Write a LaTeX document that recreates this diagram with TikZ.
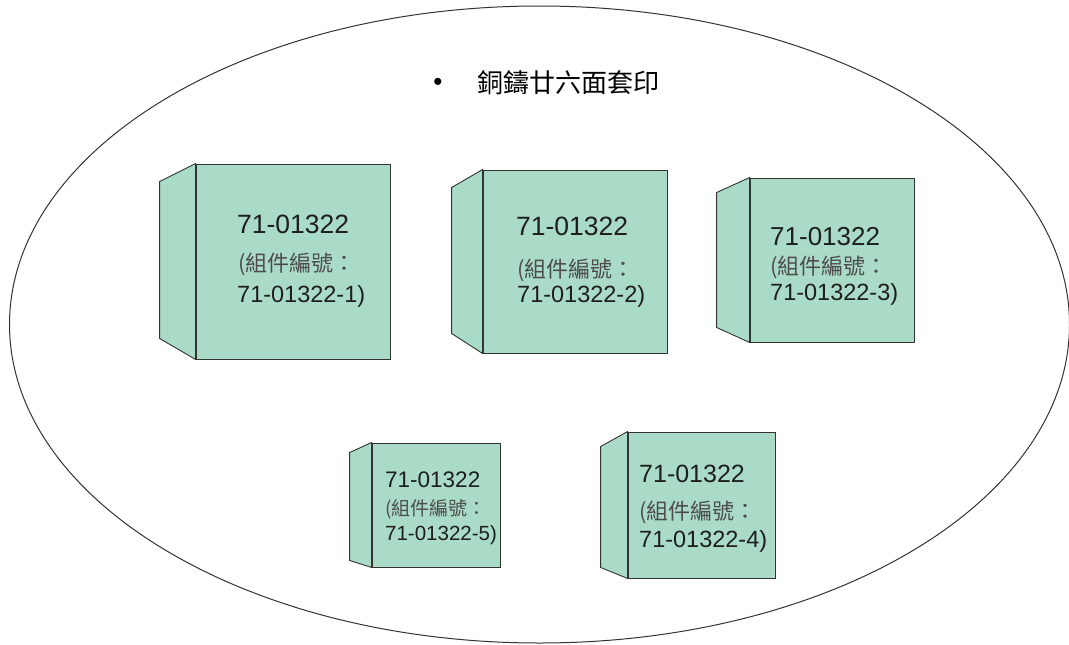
\documentclass[tikz,border=0pt]{standalone}
\usepackage{fontspec}
\setmainfont{Liberation Sans}
\newfontfamily\cjk{Noto Sans CJK TC}
\definecolor{boxgreen}{RGB}{169,219,199}
\definecolor{ink}{RGB}{30,30,30}
\tikzset{
  frontbox/.style={draw=black!80, fill=boxgreen, line width=0.9pt, inner sep=0pt},
  sideface/.style={draw=black!80, fill=boxgreen, line width=0.9pt, line join=miter},
  lineA/.style={anchor=base west, inner sep=0pt, text=ink},
  lineB/.style={anchor=base west, inner sep=0pt, text=black!70},
}
\newcommand{\fs}[1]{\fontsize{#1}{#1}\selectfont}
\begin{document}
\begin{tikzpicture}[x=1pt,y=-1pt]
\useasboundingbox (0,0) rectangle (1069,645);
\draw[black!80, line width=1pt] (539.5,324.5) ellipse [x radius=530pt, y radius=318.5pt];
% title
\node[inner sep=0pt, font=\fs{26}] (bul) at (438,84) {•};
\node[anchor=west, inner sep=0pt, font=\cjk\fs{26}] (title) at (477,83) {銅鑄廿六面套印};
% box 1
\node[frontbox, minimum width=194pt, minimum height=195pt] (f1) at (293,261.5) {};
\draw[sideface] (f1.north west) -- +(-36,18) -- ([shift={(-36,-21)}]f1.south west) -- (f1.south west) -- cycle;
\node[lineA, font=\fs{26.5}] (a1) at (237,233) {71-01322};
\node[lineB, font=\cjk\fs{22}] (b1) at (238,271) {(組件編號：};
\node[lineA, font=\fs{23.5}] (c1) at (237,302) {71-01322-1)};
% box 2
\node[frontbox, minimum width=184pt, minimum height=183pt] (f2) at (575,261.5) {};
\draw[sideface] (f2.north west) -- +(-31,18) -- ([shift={(-31,-20)}]f2.south west) -- (f2.south west) -- cycle;
\node[lineA, font=\fs{26.5}] (a2) at (516,235) {71-01322};
\node[lineB, font=\cjk\fs{22}] (b2) at (517,277) {(組件編號：};
\node[lineA, font=\fs{23.5}] (c2) at (517,302) {71-01322-2)};
% box 3
\node[frontbox, minimum width=164pt, minimum height=164pt] (f3) at (832,260) {};
\draw[sideface] (f3.north west) -- +(-33,15) -- ([shift={(-33,-15)}]f3.south west) -- (f3.south west) -- cycle;
\node[lineA, font=\fs{26}] (a3) at (770,245) {71-01322};
\node[lineB, font=\cjk\fs{22}] (b3) at (770,274) {(組件編號：};
\node[lineA, font=\fs{23.5}] (c3) at (770,300) {71-01322-3)};
% box 5
\node[frontbox, minimum width=128pt, minimum height=124pt] (f5) at (436,505) {};
\draw[sideface] (f5.north west) -- +(-22,10) -- ([shift={(-22,-7)}]f5.south west) -- (f5.south west) -- cycle;
\node[lineA, font=\fs{22.5}] (a5) at (385,487) {71-01322};
\node[lineB, font=\cjk\fs{19}] (b5) at (385,515) {(組件編號：};
\node[lineA, font=\fs{20.5}] (c5) at (385,540) {71-01322-5)};
% box 4
\node[frontbox, minimum width=147pt, minimum height=146pt] (f4) at (701.5,505) {};
\draw[sideface] (f4.north west) -- +(-27,15) -- ([shift={(-27,-11)}]f4.south west) -- (f4.south west) -- cycle;
\node[lineA, font=\fs{25}] (a4) at (639,482) {71-01322};
\node[lineB, font=\cjk\fs{22}] (b4) at (639,519) {(組件編號：};
\node[lineA, font=\fs{23.5}] (c4) at (639,547) {71-01322-4)};
\end{tikzpicture}
\end{document}
